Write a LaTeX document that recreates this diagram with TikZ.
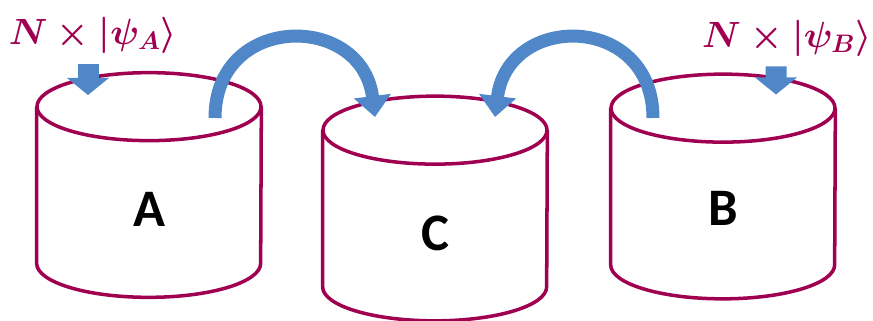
\documentclass[tikz,border=0pt]{standalone}
\usepackage{fontspec}
\newfontfamily\lblfont{Carlito}
\definecolor{tankred}{RGB}{160,0,80}
\definecolor{flowblue}{RGB}{79,135,200}
\usetikzlibrary{calc, positioning, arrows.meta}
\usepackage{amsmath,amssymb}

\begin{document}
\begin{tikzpicture}[
  tankbox/.style={minimum width=4.48cm, minimum height=4.48cm, inner sep=0pt},
  tankline/.style={draw=tankred, line width=2pt},
  tanktxt/.style={font=\lblfont\bfseries\fontsize{30}{34}\selectfont},
  ket/.style={text=tankred, font=\boldmath\fontsize{19.5}{23}\selectfont},
  hop/.style={-{Triangle[width=0.72cm, length=0.42cm]}, line width=0.26cm, flowblue},
  feed/.style={-{Triangle[width=0.82cm, length=0.34cm]}, line width=0.42cm, flowblue},
]
\useasboundingbox (0,0) rectangle (17.46,-6.42);
% tanks
\node[tankbox] (A) at (2.98,-3.70) {};
\node[tankbox] (C) at (8.70,-4.17) {};
\node[tankbox] (B) at (14.46,-3.73) {};
\foreach \t in {A,C,B} {
  \draw[tankline] ([yshift=-0.68cm]\t.north) ellipse [x radius=2.24cm, y radius=0.68cm];
  \draw[tankline] ([yshift=-0.68cm]\t.north west) -- ([yshift=0.68cm]\t.south west)
    arc[start angle=180, end angle=360, x radius=2.24cm, y radius=0.68cm]
    -- ([yshift=-0.68cm]\t.north east);
}
\node[tanktxt] (lA) at ([yshift=-0.48cm]A.center) {A};
\node[tanktxt] (lC) at ([yshift=-0.49cm]C.center) {C};
\node[tanktxt] (lB) at ([yshift=-0.44cm]B.center) {B};
% incoming states
\node[ket] (psiA) at (1.86,-0.70) {$N\times|\psi_A\rangle$};
\node[ket] (psiB) at (15.74,-0.76) {$N\times|\psi_B\rangle$};
\draw[feed] ([shift={(-0.10,-0.10)}]psiA.south) -- ([shift={(-1.22,1.80)}]A.center);
\draw[feed] ([shift={(-0.22,-0.08)}]psiB.south) -- ([shift={(1.06,1.84)}]B.center);
% transfers into C
\draw[hop] ([shift={(1.32,1.34)}]A.center)
  .. controls +(0,2.1) and +(-0.26,2.1) .. ([shift={(-1.20,1.83)}]C.center);
\draw[hop] ([shift={(-1.40,1.37)}]B.center)
  .. controls +(0,2.1) and +(0.26,2.1) .. ([shift={(1.20,1.83)}]C.center);
\end{tikzpicture}
\end{document}
